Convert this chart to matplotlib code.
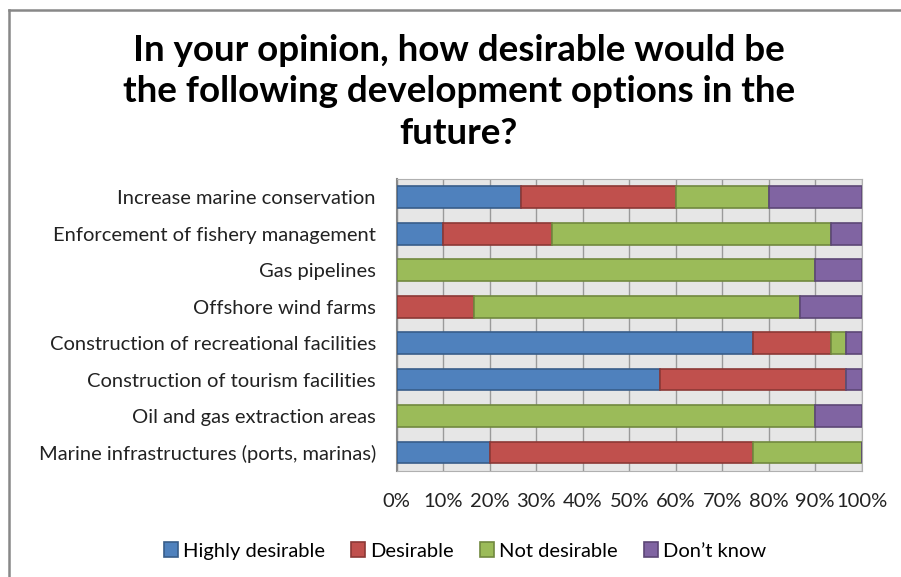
import matplotlib
matplotlib.use("Agg")
import matplotlib.pyplot as plt
from matplotlib.lines import Line2D
import numpy as np

plt.rcParams['font.family'] = ['Lato', 'DejaVu Sans']

TITLE = 'In your opinion, how desirable would be\nthe following development options in the\nfuture?'

# options listed bottom to top
options = [
    'Marine infrastructures (ports, marinas)',
    'Oil and gas extraction areas',
    'Construction of tourism facilities',
    'Construction of recreational facilities',
    'Offshore wind farms',
    'Gas pipelines',
    'Enforcement of fishery management',
    'Increase marine conservation',
]

# shares in percent, same order as options
highly_desirable = [20.0, 0.0, 56.7, 76.7, 0.0, 0.0, 10.0, 26.7]
desirable = [56.7, 0.0, 40.0, 16.7, 16.7, 0.0, 23.3, 33.3]
not_desirable = [23.3, 90.0, 0.0, 3.3, 70.0, 90.0, 60.0, 20.0]
dont_know = [0.0, 10.0, 3.3, 3.3, 13.3, 10.0, 6.7, 20.0]

series = [
    ('Highly desirable', highly_desirable, '#4F81BD', '#385D8A'),
    ('Desirable', desirable, '#C0504D', '#8C3836'),
    ('Not desirable', not_desirable, '#9BBB59', '#71893F'),
    ('Don\u2019t know', dont_know, '#8064A2', '#5C4776'),
]

fig = plt.figure(figsize=(9.01, 5.77), dpi=100)
ax = fig.add_axes([0.4403, 0.1842, 0.5161, 0.5056])
ax.set_facecolor('#E6E6E6')

y = np.arange(len(options))
left = np.zeros(len(options))
handles = []
for name, vals, color, edge in series:
    vals = np.array(vals)
    bars = ax.barh(y, vals, left=left, height=0.6, color=color,
                   edgecolor=edge, linewidth=1.2, label=name, zorder=3)
    handles.append(bars)
    left += vals

ax.set_xlim(0, 100)
ax.set_ylim(-0.5, len(options) - 0.5)
ax.set_xticks(np.arange(0, 101, 10))
ax.set_xticklabels([f'{v}%' for v in range(0, 101, 10)], fontsize=14.5,
                   color='#222222')
ax.set_yticks(y)
ax.set_yticklabels(options, fontsize=14.5, color='#222222')
ax.tick_params(axis='both', length=0)
ax.tick_params(axis='x', pad=16)
ax.tick_params(axis='y', pad=15)

ax.grid(axis='x', color='#9A9A9A', linewidth=1.0, zorder=0)
ax.set_axisbelow(True)
for side in ['top', 'right', 'bottom']:
    ax.spines[side].set_color('#B0B0B0')
ax.spines['left'].set_color('#8A8A8A')
ax.spines['left'].set_linewidth(1.5)

fig.text(0.509, 0.841, TITLE, ha='center', va='center', fontsize=26.5,
         fontweight='bold', linespacing=1.31, color='#000000')

fig.legend(handles=handles, loc='center', bbox_to_anchor=(0.516, 0.045),
           ncol=4, frameon=False, fontsize=14.5, handlelength=0.7,
           handleheight=0.7, handletextpad=0.25, columnspacing=1.3)

# chart area frame (left and top edges)
fig.add_artist(Line2D([8.5 / 901, 8.5 / 901], [0, 1 - 10 / 577],
                      transform=fig.transFigure, color='#888888', linewidth=1.8))
fig.add_artist(Line2D([8.5 / 901, 1], [1 - 10 / 577, 1 - 10 / 577],
                      transform=fig.transFigure, color='#888888', linewidth=1.8))

fig.savefig('out.png', dpi=100)
